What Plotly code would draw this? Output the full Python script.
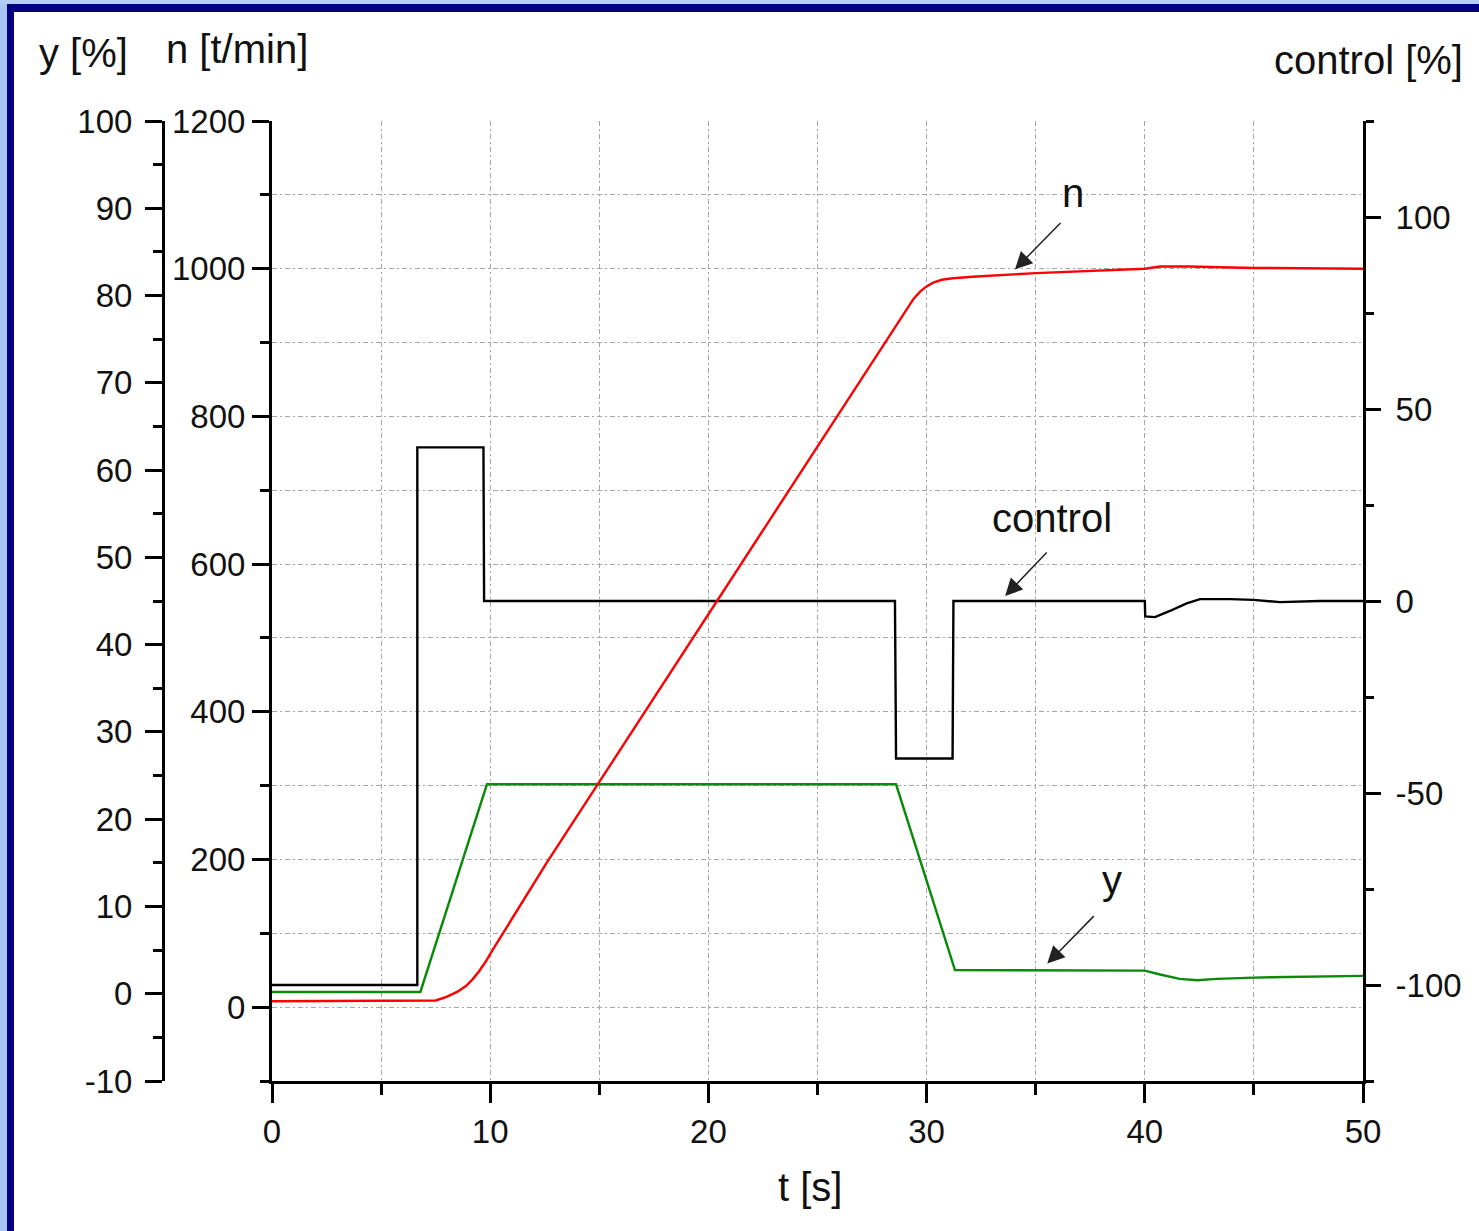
import plotly.graph_objects as go

# ---- measured signals ----------------------------------------------------
# time axis [s]
control_t = [0, 6.66, 6.66, 9.69, 9.72, 28.55, 28.6, 31.19, 31.23, 40.0, 40.02,
             40.47, 41.15, 41.92, 42.53, 43.9, 44.97, 46.2, 48.0, 50.0]
control_v = [-100, -100, 40, 40, 0, 0, -41, -41, 0, 0, -4.0,
             -4.2, -2.6, -0.6, 0.5, 0.5, 0.3, -0.3, 0, 0]

y_t = [0, 6.8, 9.85, 28.6, 31.3, 40.0, 40.7, 41.6, 42.4, 43.3, 45.0, 47.1, 50.0]
y_v = [0.2, 0.2, 24.0, 24.0, 2.7, 2.65, 2.2, 1.7, 1.55, 1.7, 1.85, 1.95, 2.05]

n_t = [0, 7.1, 7.5, 8.0, 8.5, 8.9, 9.2, 9.5, 9.8, 10.1, 10.5, 11.1, 12.6, 15.0,
       20.0, 25.0, 27.6, 28.6, 29.1, 29.4, 29.7, 30.0, 30.3, 30.7, 31.2, 32.1,
       35.0, 38.0, 40.0, 40.7, 42.0, 45.0, 50.0]
n_v = [8, 8, 9, 14, 21, 29, 38, 49, 62, 77, 96, 124, 196, 305,
       532, 759, 877, 922, 946, 959, 969, 976, 981, 985, 987, 989,
       994, 997, 1000, 1003, 1003, 1001, 1000]

# ---- axis scales and tick labels -------------------------------------------
t_range = [0, 50]
n_range = [-100, 1200]
y_range = [-10, 100]
control_range = [-125, 125]

y_ticks = list(range(-10, 101, 10))
control_ticks = [-100, -50, 0, 50, 100]

W, H = 1479, 1231
ML, MR, MT, MB = 0, 0, 121, 150
PX0, PX1 = 272, 1363          # horizontal extent of the plotting area
PLOT_H = H - MT - MB

FONT = "Arial, Liberation Sans, sans-serif"
TICK_SIZE = 33
TITLE_SIZE = 40
TEXT_COLOR = "#111"
GRID_COLOR = "#a6a6a6"
GRID_DASH = "5px,3px,2px,3px"
LINE_W = 2.4


def px(x):
    return x / W


def py(y):
    return (H - MB - y) / PLOT_H


def label(v):
    # plain hyphen for negative numbers
    return str(v)


fig = go.Figure()

fig.add_trace(go.Scatter(x=control_t, y=control_v, mode="lines", name="control",
                         line=dict(color="black", width=LINE_W), yaxis="y"))
fig.add_trace(go.Scatter(x=y_t, y=y_v, mode="lines", name="y",
                         line=dict(color="#0a8a0a", width=LINE_W), yaxis="y2"))
fig.add_trace(go.Scatter(x=n_t, y=n_v, mode="lines", name="n",
                         line=dict(color="#ff0000", width=LINE_W), yaxis="y3"))

axis_common = dict(showline=True, linecolor="black", linewidth=3, ticks="outside",
                   tickcolor="black", tickwidth=3, zeroline=False, automargin=False,
                   tickfont=dict(family=FONT, size=TICK_SIZE, color=TEXT_COLOR))

fig.update_layout(
    width=W, height=H, autosize=False,
    margin=dict(l=ML, r=MR, t=MT, b=MB, pad=0, autoexpand=False),
    paper_bgcolor="white", plot_bgcolor="white",
    showlegend=False,
    xaxis=dict(domain=[px(PX0), px(PX1)], range=t_range, dtick=10, tick0=0,
               ticklen=19, showgrid=True, gridcolor=GRID_COLOR, gridwidth=1,
               griddash=GRID_DASH,
               minor=dict(dtick=5, ticklen=11, tickwidth=3, tickcolor="black",
                          showgrid=True, gridcolor=GRID_COLOR, griddash=GRID_DASH),
               **axis_common),
    # control [%] on the right
    yaxis=dict(range=control_range, tickmode="array", tickvals=control_ticks,
               ticktext=[label(v) for v in control_ticks], side="right", anchor="x",
               ticklen=15, showgrid=False, ticklabelstandoff=8,
               minor=dict(dtick=25, tick0=0, ticklen=8, tickwidth=3, tickcolor="black"),
               **axis_common),
    # y [%] on the outer left axis
    yaxis2=dict(range=y_range, tickmode="array", tickvals=y_ticks,
                ticktext=[label(v) for v in y_ticks], side="left", overlaying="y",
                anchor="free", position=px(163), ticklen=17, showgrid=False,
                ticklabelstandoff=6,
                minor=dict(dtick=5, tick0=0, ticklen=9, tickwidth=3, tickcolor="black"),
                **axis_common),
    # n [t/min] on the inner left axis, carrying the horizontal grid
    yaxis3=dict(range=n_range, dtick=200, tick0=0, side="left", overlaying="y",
                anchor="x", ticklen=17, showgrid=True, gridcolor=GRID_COLOR,
                gridwidth=1, griddash=GRID_DASH,
                minor=dict(dtick=100, ticklen=9, tickwidth=3, tickcolor="black",
                           showgrid=True, gridcolor=GRID_COLOR, griddash=GRID_DASH),
                **axis_common),
)

# axis titles
titles = [("y [%]", 83, 53), ("n [t/min]", 237, 49), ("control [%]", 1368, 60),
          ("t [s]", 810, 1187)]
for text, x, y in titles:
    fig.add_annotation(text=text, xref="paper", yref="paper", x=px(x), y=py(y),
                       xanchor="center", yanchor="middle", showarrow=False,
                       font=dict(family=FONT, size=TITLE_SIZE, color=TEXT_COLOR))

# curve labels with pointing arrows
labels = [
    ("n", "y3", 36.7, 1102, 34.05, 999, 47, -48),
    ("control", "y", 35.75, 21.5, 33.6, 1.3, 43, -45),
    ("y", "y2", 38.5, 13.0, 35.53, 3.45, 48, -49),
]
for text, yref, tx, ty, hx, hy, ax, ay in labels:
    fig.add_annotation(text=text, xref="x", yref=yref, x=tx, y=ty,
                       showarrow=False, xanchor="center", yanchor="middle",
                       font=dict(family=FONT, size=TITLE_SIZE, color=TEXT_COLOR))
    fig.add_annotation(text="", xref="x", yref=yref, x=hx, y=hy, ax=ax, ay=ay,
                       axref="pixel", ayref="pixel", showarrow=True,
                       arrowhead=2, arrowsize=2.3, arrowwidth=1.5, arrowcolor="#222")

# window frame: light outer band and dark inner band along left and top edges
frame = [
    (0, 0, 7, H, "#a6c4f4"),
    (0, 0, W, 4, "#b4cef6"),
    (7, 4, 14, H, "#000080"),
    (7, 4, W, 12, "#000080"),
]
for x0, y0, x1, y1, color in frame:
    fig.add_shape(type="rect", xref="paper", yref="paper",
                  x0=px(x0), x1=px(x1), y0=py(y1), y1=py(y0),
                  line=dict(width=0), fillcolor=color, layer="above")

# page without body margin or scrollbars so the figure keeps its exact size
page_fix = (
    "document.documentElement.style.margin='0';"
    "document.documentElement.style.overflow='hidden';"
    "document.body.style.margin='0';"
    "document.body.style.overflow='hidden';"
    "var gd=document.getElementById('{plot_id}');"
    "gd.style.width='1479px';gd.style.height='1231px';"
    "Plotly.relayout(gd,{width:1479,height:1231});"
)

fig.write_html("out.html", post_script=page_fix,
               config={"responsive": False, "displayModeBar": False})
